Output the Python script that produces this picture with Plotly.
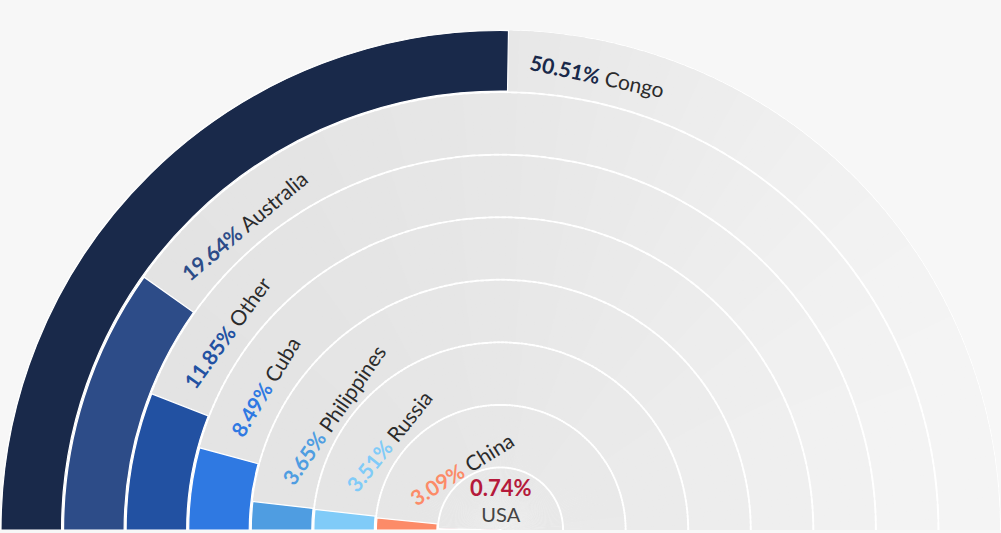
import math
import numpy as np
import plotly.graph_objects as go

# Rings listed from the centre outwards
countries = ["USA", "China", "Russia", "Philippines", "Cuba", "Other", "Australia", "Congo"]
shares = [0.74, 3.09, 3.51, 3.65, 8.49, 11.85, 19.64, 50.51]
colors = ["#b51a3b", "#fc8b68", "#80cbf8", "#4f9de1", "#2f79e2", "#2251a2", "#2d4c88", "#19294a"]

W, H = 1001, 533
R_PX = W / 2.0             # outer radius in pixels (half disk spans the width)
CX, CY = W / 2.0, 530      # pixel position of the polar centre
SECTOR = [0, 180]
N = len(countries)
UNIT = R_PX / N            # pixels per ring
GAP = 2.0 / UNIT           # white gap between rings (radial units)
FONT = "Lato"


def theta_of(share):
    # half circle = 100 %
    return share * 180.0 / 100.0


dom_x = [0.0, 1.0]
dom_y = [(H - CY) / H, (H - CY + R_PX) / H]

# horizontal grey ramp for the background tracks
ramp_x = [0, 300, 500, 650, 800, 900, 1001]
ramp_g = [226, 228, 231, 235, 240, 243, 245]

fig = go.Figure()

# white underlay so the gaps between rings read as white
fig.add_trace(go.Barpolar(
    theta=[90], width=[180], base=[0], r=[N],
    marker=dict(color="#ffffff", line=dict(width=0)),
    hoverinfo="skip", showlegend=False,
))

# grey tracks, sliced so they can carry the left-to-right ramp
n_slices = 150
step = 180.0 / n_slices
t_theta, t_width, t_base, t_r, t_col = [], [], [], [], []
for k in range(N):
    r_mid = (k + 0.5) * UNIT
    for i in range(n_slices):
        th = (i + 0.5) * step
        phi = math.radians(180 - th)
        x = CX + r_mid * math.cos(phi)
        g = int(round(np.interp(x, ramp_x, ramp_g)))
        t_theta.append(th)
        t_width.append(step * 1.35)
        t_base.append(k + GAP / 2)
        t_r.append(1 - GAP)
        t_col.append(f"rgb({g},{g},{g})")
fig.add_trace(go.Barpolar(
    theta=t_theta, width=t_width, base=t_base, r=t_r,
    marker=dict(color=t_col, line=dict(width=0)),
    hoverinfo="skip", showlegend=False,
))

# value bars, starting at the left end of the half circle
fig.add_trace(go.Barpolar(
    theta=[theta_of(s) / 2 for s in shares],
    width=[theta_of(s) for s in shares],
    base=[k + GAP / 2 for k in range(N)],
    r=[1 - GAP] * N,
    marker=dict(color=colors, line=dict(color="#ffffff", width=1.2)),
    hoverinfo="skip", showlegend=False,
))


def text_width(s, size, bold=False):
    w = 0.0
    for ch in s:
        if ch.isdigit():
            e = 0.58
        elif ch == ".":
            e = 0.26
        elif ch == "%":
            e = 0.80
        elif ch == " ":
            e = 0.26
        elif ch in "ilj":
            e = 0.24
        elif ch in "frt":
            e = 0.35
        elif ch in "mw":
            e = 0.80
        elif ch.isupper():
            e = 0.66
        else:
            e = 0.52
        w += e * size
    return w * (1.04 if bold else 1.0)


FS = 21
annotations = []
for k, (name, s, c) in enumerate(zip(countries, shares, colors)):
    pct = f"{s:.2f}%"
    if k == 0:
        # innermost ring: label sits in the middle of the dial
        annotations.append(dict(
            x=CX / W, y=(H - 500) / H, xref="paper", yref="paper",
            xanchor="center", yanchor="middle", showarrow=False,
            text=f"<b><span style='color:{c};font-size:22px'>{pct}</span></b><br>{name}",
            font=dict(family=FONT, size=20, color="#444444"), align="center",
        ))
        continue
    r_mid = (k + 0.5) * UNIT
    end = math.radians(theta_of(s))
    w = text_width(pct, FS, True) + text_width(" " + name, FS)
    a_s = end + 22.0 / r_mid
    delta = 2 * math.asin(min(w / (2 * r_mid), 0.99))
    a_m = a_s + delta / 2
    dist = r_mid * math.cos(delta / 2)
    phi = math.pi - a_m
    px = CX + dist * math.cos(phi)
    py = CY - dist * math.sin(phi)
    annotations.append(dict(
        x=px / W, y=(H - py) / H, xref="paper", yref="paper",
        xanchor="center", yanchor="middle", showarrow=False,
        textangle=math.degrees(a_m) - 90,
        text=f"<b><span style='color:{c}'>{pct}</span></b> {name}",
        font=dict(family=FONT, size=FS, color="#2b2b2b"),
    ))

fig.update_layout(
    width=W, height=H,
    margin=dict(l=0, r=0, t=0, b=0),
    paper_bgcolor="#f7f7f7",
    plot_bgcolor="#f7f7f7",
    showlegend=False,
    polar=dict(
        domain=dict(x=dom_x, y=dom_y),
        sector=SECTOR,
        hole=0,
        bgcolor="rgba(0,0,0,0)",
        barmode="overlay",
        radialaxis=dict(range=[0, N], visible=False, showgrid=False),
        angularaxis=dict(visible=False, showgrid=False, rotation=180,
                         direction="clockwise"),
    ),
    annotations=annotations,
)

fig.write_html("out.html", config={"displayModeBar": False})
